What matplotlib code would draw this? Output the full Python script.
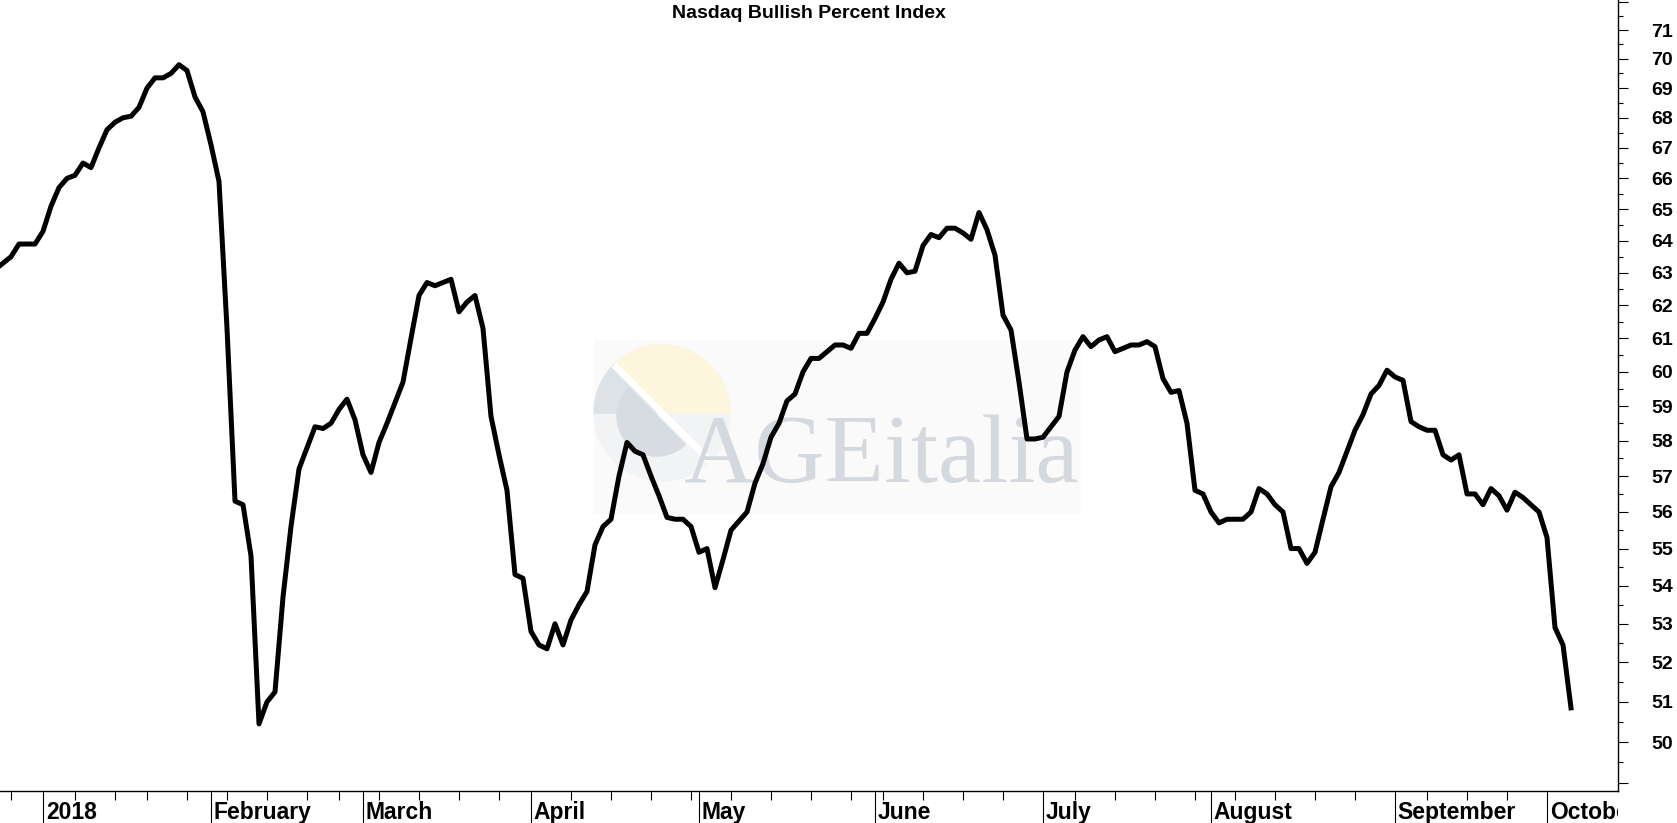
import numpy as np
import pandas as pd
import matplotlib
matplotlib.use("Agg")
import matplotlib.pyplot as plt
from matplotlib.ticker import FixedLocator, FixedFormatter, NullFormatter
from matplotlib.patches import Rectangle, Wedge, Circle

# trading days (NYSE holidays removed)
holidays = ["2017-12-25", "2018-01-01", "2018-01-15", "2018-02-19",
            "2018-03-30", "2018-05-28", "2018-07-04", "2018-09-03"]

# Nasdaq Bullish Percent Index, daily closes
bpi_dec = [63.1, 63.3, 63.5, 63.9, 63.9, 63.9]
bpi_jan = [64.3, 65.1, 65.7, 66.0, 66.1, 66.5, 66.35, 67.0, 67.6, 67.85, 68.0,
           68.05, 68.35, 69.0, 69.35, 69.35, 69.5, 69.8, 69.6, 68.7, 68.2]
bpi_feb = [67.1, 65.9, 61.3, 56.3, 56.2, 54.8, 50.45, 51.0, 51.25, 53.7,
           55.6, 57.2, 57.8, 58.4, 58.35, 58.5, 58.9, 59.2, 58.6]
bpi_mar = [57.6, 57.1, 57.95, 58.5, 59.1, 59.7, 61.0, 62.3, 62.7, 62.6, 62.7,
           62.8, 61.8, 62.1, 62.3, 61.3, 58.7, 57.6, 56.6, 54.3, 54.2]
bpi_apr = [52.8, 52.45, 52.35, 53.0, 52.45, 53.1, 53.5, 53.85, 55.1, 55.6, 55.8,
           57.0, 57.95, 57.7, 57.6, 57.0, 56.45, 55.85, 55.8, 55.8, 55.6]
bpi_may = [54.9, 55.0, 53.95, 54.7, 55.5, 55.75, 56.0, 56.8, 57.35, 58.1, 58.5,
           59.15, 59.35, 60.0, 60.4, 60.4, 60.6, 60.8, 60.8, 60.7, 61.15, 61.15]
bpi_jun = [61.6, 62.1, 62.8, 63.3, 63.0, 63.05, 63.85, 64.2, 64.1, 64.4, 64.4,
           64.25, 64.05, 64.9, 64.35, 63.55, 61.7, 61.25, 59.7, 58.05, 58.05]
bpi_jul = [58.1, 58.4, 58.7, 60.0, 60.65, 61.05, 60.75, 60.95, 61.05, 60.6, 60.7,
           60.8, 60.8, 60.9, 60.75, 59.8, 59.4, 59.45, 58.5, 56.6, 56.5]
bpi_aug = [56.0, 55.7, 55.8, 55.8, 55.8, 56.0, 56.65, 56.5, 56.2, 56.0, 55.0, 55.0,
           54.6, 54.9, 55.8, 56.7, 57.1, 57.7, 58.3, 58.75, 59.35, 59.6, 60.05]
bpi_sep = [59.85, 59.75, 58.55, 58.4, 58.3, 58.3, 57.6, 57.45, 57.6, 56.5,
           56.5, 56.2, 56.65, 56.45, 56.05, 56.55, 56.4, 56.2, 56.0]
bpi_oct = [55.3, 52.9, 52.45, 50.85]

month_labels = ["2018", "February", "March", "April", "May", "June",
                "July", "August", "September", "October"]
ytick_values = list(range(49, 73))

days = pd.bdate_range("2017-12-21", "2018-10-04")
days = days[~days.isin(pd.to_datetime(holidays))]
bpi = np.array(bpi_dec + bpi_jan + bpi_feb + bpi_mar + bpi_apr + bpi_may +
               bpi_jun + bpi_jul + bpi_aug + bpi_sep + bpi_oct)
n = len(days)
x = np.arange(n)

week = days.isocalendar().week.values
week_starts = [i for i in range(1, n) if week[i] != week[i - 1]]
month_starts = [i for i in range(1, n) if days.month[i] != days.month[i - 1]]

plt.rcParams["font.family"] = ["Liberation Sans", "DejaVu Sans"]
plt.rcParams["font.weight"] = "bold"

W, H = 1677, 823
fig = plt.figure(figsize=(W / 100, H / 100), dpi=100)
ax = fig.add_axes([0, 1 - 791 / H, 1618 / W, 791 / H])

# watermark logo (drawn in inches from the bottom-left corner)
inch = fig.dpi_scale_trans
ax.add_patch(Rectangle((5.94, 3.10), 4.86, 1.73, transform=inch,
                       color="#fafafa", zorder=0.1, clip_on=False))
cx, cy, r = 6.62, 4.10, 0.68
ax.add_patch(Circle((cx, cy), r, transform=inch, color="#f1f3f5",
                    zorder=0.2, clip_on=False))
ax.add_patch(Wedge((cx, cy), r, 0, 135, transform=inch,
                   color="#fdf5dc", zorder=0.25, clip_on=False))
ax.add_patch(Wedge((cx, cy), r, 135, 180, transform=inch,
                   color="#dde2e6", zorder=0.25, clip_on=False))
ax.add_patch(Wedge((cx - 0.05, cy - 0.03), 0.40, 135, 315, transform=inch,
                   color="#d6dce1", zorder=0.3, clip_on=False))
disc = Circle((cx, cy), r, transform=inch)
band, = ax.plot([cx - r, cx + r], [cy + r, cy - r], color="white", lw=5,
                transform=inch, zorder=0.4, clip_on=True)
band.set_clip_path(disc)
ax.text(684 / W, 1 - 482 / H, "AGEitalia", transform=fig.transFigure,
        fontsize=70, family="Liberation Serif", weight="normal",
        color="#d3d9de", va="baseline", ha="left", zorder=0.5)

ax.plot(x, bpi, color="black", lw=3.6, zorder=2)

ax.set_yscale("log")
ax.set_ylim(48.81, 72.06)
ax.set_xlim(0.625, 202.875)

ax.yaxis.tick_right()
ax.yaxis.set_major_locator(FixedLocator(ytick_values))
ax.yaxis.set_major_formatter(FixedFormatter(
    ["" if v in (49, 72) else str(v) for v in ytick_values]))
ax.yaxis.set_minor_locator(FixedLocator(np.arange(48.5, 72.5, 1.0)))
ax.yaxis.set_minor_formatter(NullFormatter())
ax.tick_params(axis="y", which="major", length=7.2, width=0.8, pad=17,
               labelsize=14, direction="out")
ax.tick_params(axis="y", which="minor", length=3.6, width=0.8, direction="out")

ax.xaxis.set_major_locator(FixedLocator(month_starts))
ax.xaxis.set_minor_locator(FixedLocator(week_starts))
ax.xaxis.set_major_formatter(NullFormatter())
ax.tick_params(axis="x", which="major", length=24, width=0.8, direction="out")
ax.tick_params(axis="x", which="minor", length=6.5, width=0.8, direction="out")

for s in ("left", "top"):
    ax.spines[s].set_visible(False)
for s in ("right", "bottom"):
    ax.spines[s].set_linewidth(1.0)

clip = Rectangle((0, 0), 1618 / W, 1, transform=fig.transFigure)
for pos, lab in zip(month_starts, month_labels):
    t = ax.annotate(lab, xy=(pos, 0), xycoords=("data", "axes fraction"),
                    xytext=(2, -7.4), textcoords="offset points",
                    ha="left", va="top", fontsize=16.5, fontweight="bold",
                    annotation_clip=False, clip_on=True)
    t.set_clip_path(clip)

ax.text(0.5, 1 - 14 / 791, "Nasdaq Bullish Percent Index",
        transform=ax.transAxes, ha="center", va="center",
        fontsize=14, fontweight="bold")

fig.savefig("out.png", dpi=100)
